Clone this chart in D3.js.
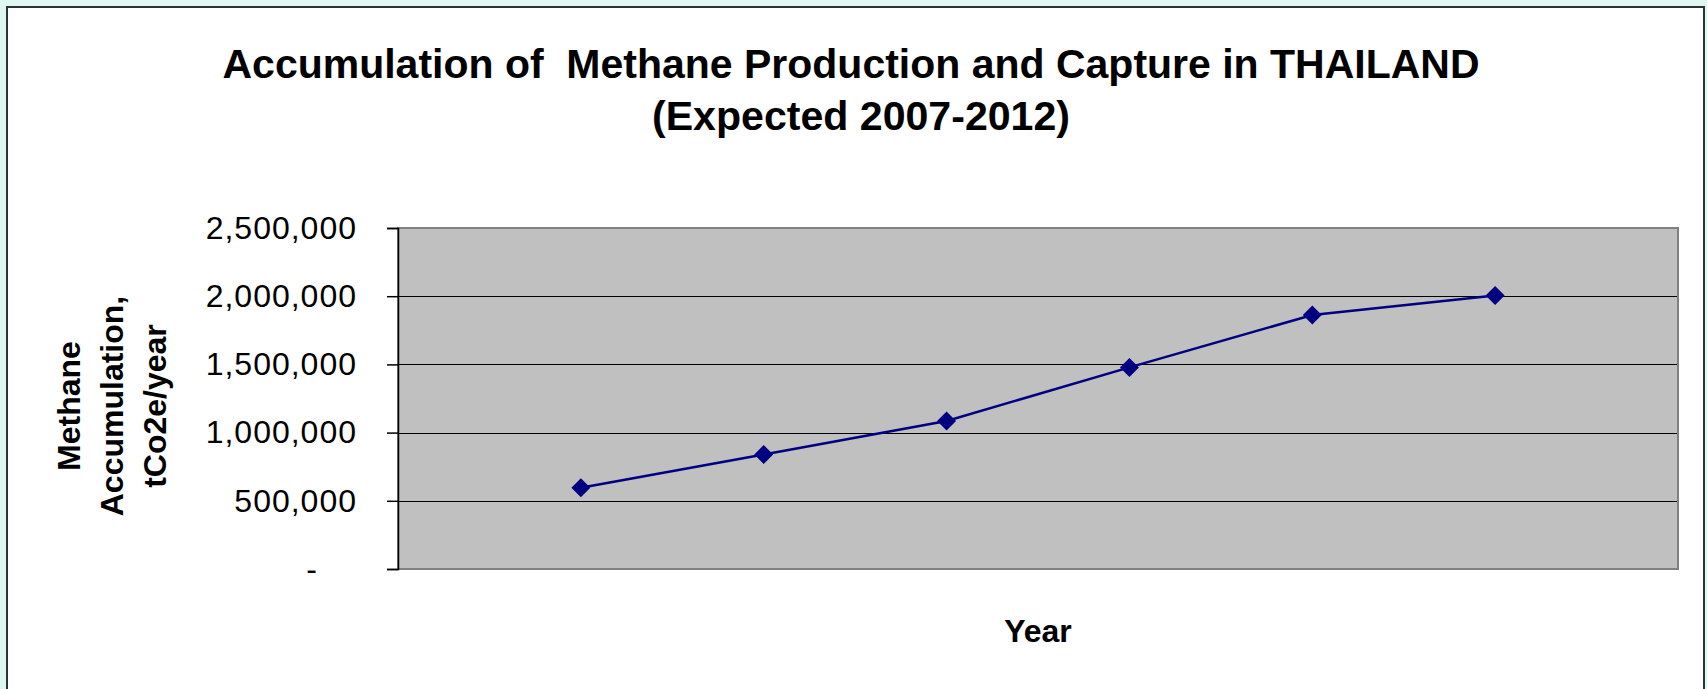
<!DOCTYPE html>
<html>
<head>
<meta charset="utf-8">
<script src="https://cdn.jsdelivr.net/npm/d3@7"></script>
<style>
  html, body { margin: 0; padding: 0; background: #e0f6f1; }
  svg { display: block; }
  text { font-family: "Liberation Sans", Arial, sans-serif; }
</style>
</head>
<body>
<svg id="chart" width="1707" height="689"></svg>
<script>
// ---- data ----
const years = ["2007", "2008", "2009", "2010", "2011", "2012"];
const methane = [595000, 840000, 1085000, 1478000, 1862000, 2005000];
const yTicks = [0, 500000, 1000000, 1500000, 2000000, 2500000];
const titleLines = ["Accumulation of  Methane Production and Capture in THAILAND", "(Expected 2007-2012)"];
const yTitleLines = ["Methane", "Accumulation,", "tCo2e/year"];
const xTitle = "Year";

const svg = d3.select("#chart");

// chart area
svg.append("rect").attr("x", 7).attr("y", 7).attr("width", 1697).attr("height", 720)
  .attr("fill", "#ffffff").attr("stroke", "#2a3434").attr("stroke-width", 2);

// plot area
const plot = { left: 398, right: 1678, top: 228, bottom: 569 };

const x = d3.scalePoint().domain(years).range([plot.left, plot.right]).padding(1);
const y = d3.scaleLinear().domain([0, 2500000]).range([plot.bottom, plot.top]);

svg.append("rect")
  .attr("x", plot.left).attr("y", plot.top)
  .attr("width", plot.right - plot.left).attr("height", plot.bottom - plot.top)
  .attr("fill", "#c0c0c0").attr("stroke", "#808080").attr("stroke-width", 2);

// gridlines
svg.append("g")
  .selectAll("line")
  .data(yTicks.filter(d => d > 0 && d < 2500000))
  .join("line")
  .attr("x1", plot.left).attr("x2", plot.right - 1)
  .attr("y1", d => Math.round(y(d)) + 0.5).attr("y2", d => Math.round(y(d)) + 0.5)
  .attr("stroke", "#000").attr("stroke-width", 1);

// y axis
const yAxis = d3.axisLeft(y)
  .tickValues(yTicks)
  .tickSize(11)
  .tickPadding(30)
  .tickFormat(d => d === 0 ? "-" : d3.format(",")(d));

const gy = svg.append("g").attr("transform", `translate(${plot.left},0)`).call(yAxis);
gy.select(".domain").attr("stroke", "#000").attr("stroke-width", 1.5);
gy.selectAll(".tick line").attr("stroke", "#000").attr("stroke-width", 1.5);
gy.selectAll(".tick text")
  .attr("font-size", 32)
  .attr("letter-spacing", "1px")
  .attr("fill", "#000")
  .style("font-family", "'Liberation Sans', Arial, sans-serif");
gy.selectAll(".tick").filter(d => d === 0).select("text").attr("x", -80);

// line
const line = d3.line().x((d, i) => x(years[i])).y(d => y(d));
svg.append("path")
  .datum(methane)
  .attr("d", line)
  .attr("fill", "none")
  .attr("stroke", "#000080")
  .attr("stroke-width", 2.5);

// markers
svg.append("g")
  .selectAll("path")
  .data(methane)
  .join("path")
  .attr("d", d3.symbol().type(d3.symbolSquare).size(180))
  .attr("transform", (d, i) => `translate(${x(years[i])},${y(d)}) rotate(45)`)
  .attr("fill", "#000080");

// title
const title = svg.append("g");
title.append("text")
  .attr("x", 851).attr("y", 78)
  .attr("text-anchor", "middle")
  .attr("font-size", 40).attr("font-weight", "bold")
  .attr("textLength", 1257).attr("lengthAdjust", "spacingAndGlyphs")
  .style("white-space", "pre")
  .text(titleLines[0]);
title.append("text")
  .attr("x", 861).attr("y", 130)
  .attr("text-anchor", "middle")
  .attr("font-size", 40).attr("font-weight", "bold")
  .attr("textLength", 418).attr("lengthAdjust", "spacingAndGlyphs")
  .text(titleLines[1]);

// y title
const yt = svg.append("g");
yTitleLines.forEach((t, i) => {
  yt.append("text")
    .attr("transform", `translate(${80 + i * 43},406) rotate(-90)`)
    .attr("text-anchor", "middle")
    .attr("font-size", 32).attr("font-weight", "bold")
    .text(t);
});

// x title
svg.append("text")
  .attr("x", 1038).attr("y", 642)
  .attr("text-anchor", "middle")
  .attr("font-size", 32).attr("font-weight", "bold")
  .text(xTitle);
</script>
</body>
</html>
